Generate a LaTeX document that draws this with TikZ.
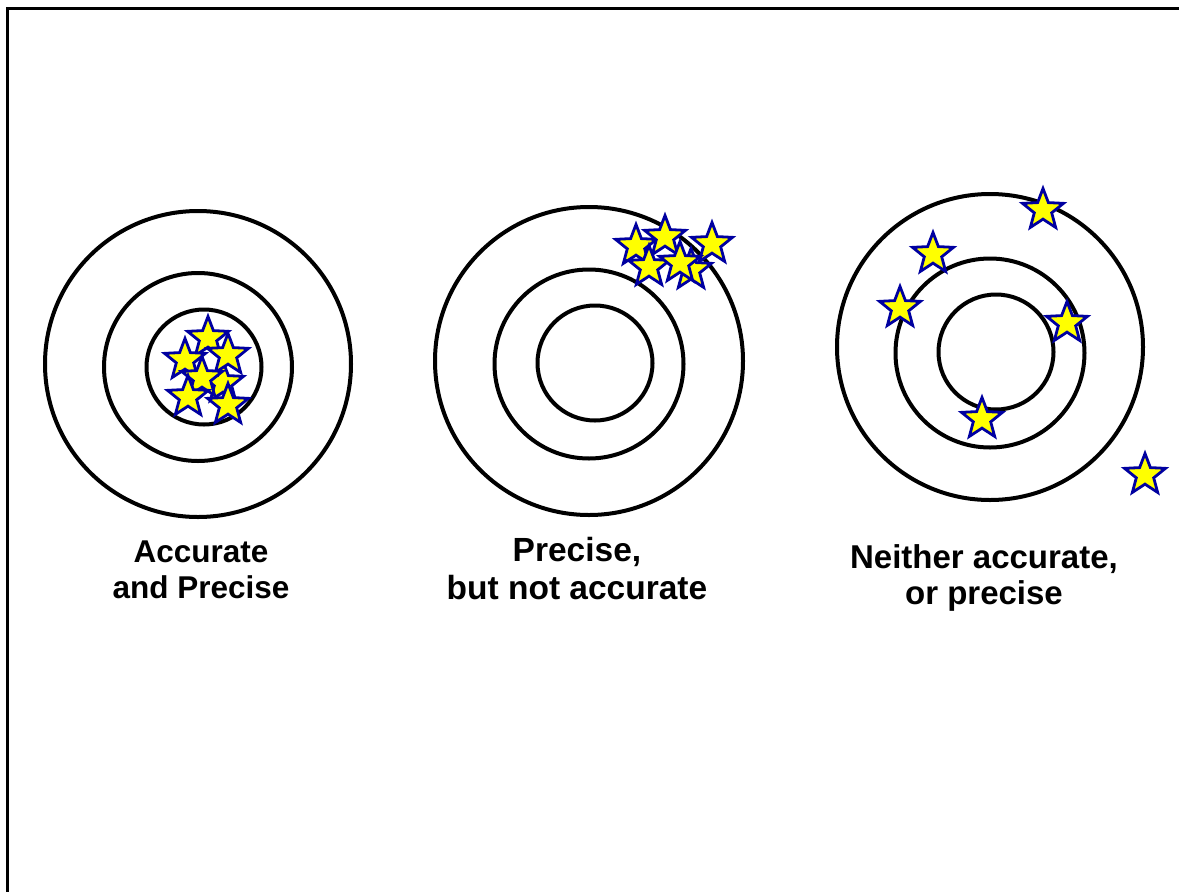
\documentclass[tikz,border=0pt]{standalone}
\usepackage{fontspec}
\setmainfont{Liberation Sans}
\usetikzlibrary{shapes.geometric}
\definecolor{starblue}{RGB}{0,0,160}
\definecolor{staryellow}{RGB}{255,255,0}

\begin{document}
\begin{tikzpicture}[x=1pt, y=-1pt,
    ring/.style={line width=4pt},
    starmark/.style={star, star points=5, star point ratio=2.35,
      minimum size=43pt, inner sep=0pt, draw=starblue, fill=staryellow,
      line width=2.8pt},
    caption/.style={align=center}]
  \useasboundingbox (0,0) rectangle (1179,892);

  % Frame
  \draw[line width=3pt] (7,892) -- (7,8) -- (1179,8);

  % Target 1: accurate and precise
  \draw[ring] (198,364) circle (153);
  \draw[ring] (198,367) circle (94);
  \draw[ring] (204,367) circle (57.5);
  \foreach \x/\y [count=\i] in {223/383,208/338,185/360,228/355,202/378,188/397,228/405}
    \node[starmark] (a\i) at (\x,\y) {};

  % Target 2: precise, but not accurate
  \draw[ring] (589,361) circle (154);
  \draw[ring] (589,364) circle (94.5);
  \draw[ring] (595,363) circle (57.5);
  \foreach \x/\y [count=\i] in {636/246,665/237,712/244,691/270,649/267,680/263}
    \node[starmark] (b\i) at (\x,\y) {};

  % Target 3: neither accurate, or precise
  \draw[ring] (990,347) circle (153);
  \draw[ring] (990,353) circle (94.5);
  \draw[ring] (996,352) circle (57.5);
  \foreach \x/\y [count=\i] in {1043/210,933/254,900/308,1067/323,982/419,1145/475}
    \node[starmark] (c\i) at (\x,\y) {};

  % Captions
  \node[caption, font=\fontsize{31.5}{36}\selectfont\bfseries] (capa) at (201,570)
    {Accurate\\and Precise};
  \node[caption, font=\fontsize{33.5}{38}\selectfont\bfseries] (capb) at (577,569)
    {Precise,\\but not accurate};
  \node[caption, font=\fontsize{33}{36}\selectfont\bfseries] (capc) at (984,578)
    {Neither accurate,\\or precise};
\end{tikzpicture}
\end{document}
